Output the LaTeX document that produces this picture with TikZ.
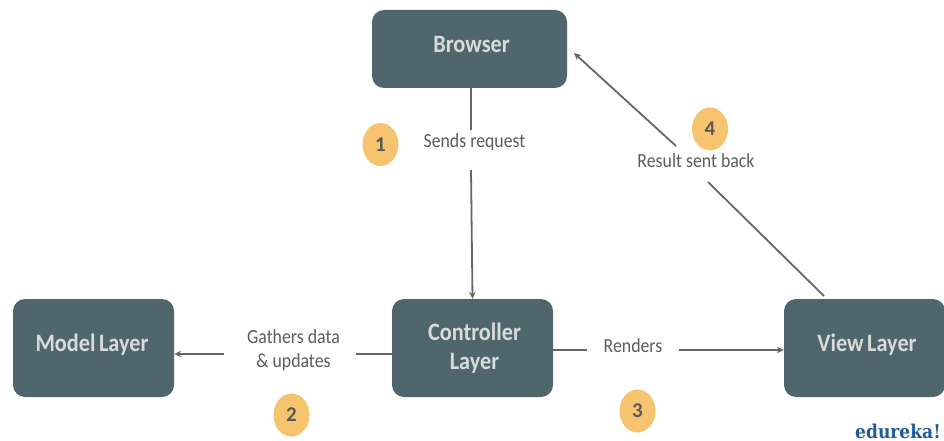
\documentclass[tikz,border=0pt]{standalone}
\usepackage{fontspec}
\setmainfont{Carlito}
\newfontfamily\logofont[FakeStretch=0.9]{DejaVu Serif}
\newfontfamily\narrowfont[FakeStretch=0.89]{Carlito}
\usetikzlibrary{arrows.meta,shapes.geometric}
\definecolor{boxc}{HTML}{4F666D}
\definecolor{boxt}{HTML}{D9DBDB}
\definecolor{linec}{HTML}{666666}
\definecolor{lblc}{HTML}{5C5C5C}
\definecolor{badge}{HTML}{F6C46E}
\definecolor{badget}{HTML}{595959}
\definecolor{logoc}{HTML}{1F5C99}
\tikzset{
 x=1pt,y=-1pt,
 layerbox/.style={draw=none,fill=boxc,rounded corners=12pt,inner sep=0pt},
 boxlabel/.style={align=center,text=boxt,font=\narrowfont\fontsize{25}{29}\selectfont\bfseries,inner sep=0pt},
 lbl/.style={text=lblc,font=\narrowfont\fontsize{20}{24}\selectfont,align=center,inner sep=0pt},
 num/.style={ellipse,fill=badge,text=badget,font=\fontsize{21}{24}\selectfont\bfseries,inner sep=0pt,
   minimum width=36pt,minimum height=43pt},
 conn/.style={draw=linec,line width=1.8pt},
 tip/.style={conn,-{Stealth[length=7pt,width=6.5pt]}},
}
\begin{document}
\begin{tikzpicture}
\useasboundingbox (0,0) rectangle (944,441);
\fill[white] (0,0) rectangle (944,441);
\node[layerbox,minimum width=195pt,minimum height=78pt] (browser) at (469.5,49) {};
\node[layerbox,minimum width=161pt,minimum height=98pt] (model) at (93.5,348) {};
\node[layerbox,minimum width=161pt,minimum height=98pt] (ctrl) at (472.5,348) {};
\node[layerbox,minimum width=161pt,minimum height=98pt] (view) at (864.5,348) {};
\node[boxlabel] (browsertext) at (471.5,44) {Browser};
\node[boxlabel] (modeltext) at (92,345) {Model\hspace{-1.5pt} Layer};
\node[boxlabel] (ctrltext) at (474.5,348.5) {Controller\\Layer};
\node[boxlabel] (viewtext) at (867,345) {View\hspace{-1.5pt} Layer};

\node[lbl] (t1) at (474.5,142.5) {Sends request};
\node[lbl] (t2) at (293.5,350) {Gathers data\\\& updates};
\node[lbl] (t3) at (633,345.5) {Renders};
\node[lbl] (t4) at (696,161) {Result sent back};

\node[num] (n1) at (380.5,144.5) {1};
\node[num] (n2) at (291.5,415) {2};
\node[num] (n3) at (637.5,411) {3};
\node[num] (n4) at (710,129) {4};
\node[text=logoc,font=\logofont\fontsize{19}{22}\selectfont\bfseries,inner sep=0pt] (logo) at (898,431) {edureka!};

\coordinate (a2) at (471,130);
\coordinate (a3) at (471,170);
\draw[conn] (a2 |- browser.south) -- (a2);
\draw[tip] (a3) -- (ctrl.north);
\coordinate (b2) at (356,354);
\coordinate (b3) at (224,354);
\draw[conn] (b2 -| ctrl.west) -- (b2);
\draw[tip] (b3) -- (b3 -| model.east);
\coordinate (c2) at (587,350);
\coordinate (c3) at (679,350);
\draw[conn] (c2 -| ctrl.east) -- (c2);
\draw[tip] (c3) -- (c3 -| view.west);
\coordinate (d1) at (824,296); \coordinate (d2) at (708,182);
\coordinate (d3) at (676,146); \coordinate (d4) at (574,53);
\draw[conn] (d1) -- (d2);
\draw[tip] (d3) -- (d4);
\end{tikzpicture}
\end{document}
